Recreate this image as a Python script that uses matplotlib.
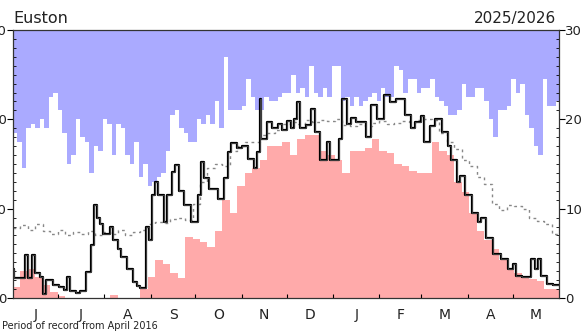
import numpy as np
import matplotlib
matplotlib.use("Agg")
import matplotlib.pyplot as plt

# ---- data (day of season starting 1 June) ----
month_labels = ["J", "J", "A", "S", "O", "N", "D", "J", "F", "M", "A", "M"]
month_days = [30, 31, 31, 30, 31, 30, 31, 31, 28, 31, 30, 31]

# record maximum, 3-day resolution
max_vals = [18.5, 17.5, 14.5, 19, 19.5, 19, 20, 19, 22.5, 23, 21, 18.5, 15, 16, 20, 18,
            17.5, 14, 17, 16.5, 20, 19.5, 16, 19.5, 19, 16, 15, 17.5, 13.5, 15, 12.5, 13,
            13.5, 14, 16.5, 20.5, 21, 19, 18.5, 17.5, 17.5, 20, 19.5, 20.5, 19.5, 22, 19, 27,
            21, 21, 21, 21.5, 24.5, 22.5, 21, 21, 22.5, 22, 22, 22.5, 23, 23, 25, 23,
            23.5, 22.5, 26, 23, 22.5, 23.5, 22.5, 26, 26, 22, 22.5, 21.5, 22.5, 21.5, 22, 22.5,
            23, 22, 23.5, 22.5, 22.5, 26, 25.5, 23, 24.5, 24.5, 23, 23.5, 23.5, 24.5, 22.5, 22,
            21.5, 20.5, 20.5, 21, 24, 22.5, 22.5, 23.5, 23.5, 22, 20, 18, 21, 21, 21.5, 24.5,
            23, 24, 20.5, 19, 17, 16, 24.5, 21.5, 21.5, 22]

# record minimum, 5-day resolution
min_vals = [1.2, 3.0, 3.2, 2.4, 1.5, 0.7, 0.2, 0, 0, 0, 0, 0, 0, 0.3, 0, 0, 0,
            1.0, 2.4, 4.3, 3.8, 2.8, 2.2, 6.8, 6.6, 6.3, 5.7, 7.5, 11, 9.5, 12.5, 14,
            14.5, 15.5, 17, 17, 17.5, 16, 17.8, 18.2, 18.2, 16.5, 16, 15.5, 14, 16.5, 16.5,
            16.8, 17.8, 16.5, 16.2, 15, 14.8, 14.2, 14, 14, 17.5, 16.5, 16, 13, 11.9, 9.5,
            7.5, 6.5, 5.5, 4.3, 3.2, 2.8, 2.3, 2.1, 1.9, 1.0, 1.0]

# mean, 5-day resolution
mean_vals = [7.8, 8.2, 7.6, 8.3, 7.5, 7.2, 7.6, 7.0, 7.4, 7.2, 7.5, 7.0, 7.4, 7.2, 7.6,
             7.0, 7.4, 7.6, 8.3, 8.5, 8.4, 8.8, 9.0, 8.7, 10.5, 13, 14.5, 15, 14.8, 16.5,
             17, 17.5, 17.5, 18.2, 18.5, 18.8, 19.5, 19.7, 19.5, 19.9, 19.7, 19.9, 19.8,
             20.0, 19.4, 19.2, 19.5, 19.3, 19.6, 19.8, 19.5, 19.6, 19.8, 19.7, 19.9, 20.0,
             19.9, 18.5, 17.5, 16.7, 15.5, 14.8, 13.5, 12.8, 10.5, 9.8, 10.4, 10.3, 10.0,
             9.0, 8.6, 8.3, 7.2]

# current season: (day the value starts, value)
cur_days = [0, 1, 8, 10, 13, 15, 18, 20, 22, 27, 31, 34, 36, 38, 42, 45, 49, 52, 54, 56,
            58, 60, 65, 67, 70, 72, 76, 80, 83, 85, 89, 91, 93, 95, 97, 101, 103, 106, 108,
            111, 114, 119, 124, 126, 128, 131, 137, 141, 144, 146, 150, 153, 157, 161, 163,
            165, 166, 170, 173, 177, 180, 183, 186, 188, 190, 192, 196, 199, 202, 205, 210,
            212, 218, 220, 223, 226, 229, 236, 239, 243, 248, 252, 256, 262, 266, 269, 273,
            275, 279, 282, 287, 291, 293, 297, 299, 302, 307, 311, 313, 316, 321, 326, 331,
            334, 336, 340, 346, 349, 351, 353, 357, 361]
cur_vals = [3.3, 2.2, 4.8, 2.2, 4.8, 2.8, 2.4, 0.5, 2.0, 1.4, 1.2, 0.9, 2.4, 0.8, 0.6, 0.8,
            2.9, 5.9, 10.4, 9.0, 8.3, 7.2, 8.0, 6.5, 5.5, 4.6, 3.2, 1.8, 1.3, 1.1, 8.0, 6.5,
            11.5, 13.0, 11.5, 8.5, 11.5, 14.1, 14.9, 12.0, 10.4, 8.5, 11.5, 15.2, 13.4, 12.2,
            11.1, 13.4, 16.3, 17.3, 16.8, 17.0, 15.6, 14.5, 16.3, 22.3, 17.8, 19.7, 19.0,
            19.5, 18.8, 19.8, 19.0, 20.0, 21.9, 19.0, 19.4, 21.2, 18.6, 15.4, 17.5, 15.4,
            17.8, 22.3, 19.5, 20.2, 19.7, 18.0, 21.6, 20.0, 22.7, 21.9, 22.3, 20.5, 19.0,
            19.7, 20.4, 17.5, 19.2, 20.0, 18.6, 17.0, 15.5, 13.0, 13.7, 11.5, 9.5, 8.5, 8.9,
            6.7, 4.9, 4.4, 3.3, 3.8, 2.5, 2.3, 4.4, 3.3, 4.4, 2.5, 1.6, 1.4]

title_left = "Euston"
title_right = "2025/2026"
footnote = "Period of record from April 2016"
YMAX = 30
NDAYS = sum(month_days)


def edges(step, vals):
    x = np.arange(len(vals)) * step
    x = np.append(x, NDAYS)
    y = np.append(np.asarray(vals, float), vals[-1])
    return x, y


fig = plt.figure(figsize=(5.82, 3.33), dpi=100)
ax = fig.add_axes([13 / 582, 1 - 298 / 333, (559 - 13) / 582, (298 - 30) / 333])

xm, ym = edges(3, max_vals)
ax.fill_between(xm, ym, YMAX, step="post", color="#aaaaff", lw=0)
xn, yn = edges(5, min_vals)
ax.fill_between(xn, 0, yn, step="post", color="#ffaaaa", lw=0)
xa, ya = edges(5, mean_vals)
ax.step(xa, ya, where="post", color="#888888", lw=1.0, ls=(0, (2, 2.5)))

xc = np.append(cur_days, NDAYS)
yc = np.append(cur_vals, cur_vals[-1])
ax.step(xc, yc, where="post", color="black", lw=1.6)
ax.step(xc, yc, where="post", color="#555555", lw=0.5)

ax.set_xlim(0, NDAYS)
ax.set_ylim(0, YMAX)

bounds = np.cumsum([0] + month_days)
centers = (bounds[:-1] + bounds[1:]) / 2
ax.set_xticks(bounds[1:-1])
ax.set_xticklabels([])
ax.set_xticks(centers, minor=True)
ax.set_xticklabels(month_labels, minor=True, fontsize=10, color="#222222")
ax.tick_params(axis="x", which="major", direction="in", length=3, width=0.8)
ax.tick_params(axis="x", which="minor", length=0, pad=7)

ax.set_yticks([0, 10, 20, 30])
ax.set_yticks(np.arange(0, 31, 1), minor=True)
ax.tick_params(axis="y", which="major", direction="out", length=4, width=0.8,
               left=True, right=True, labelleft=True, labelright=True,
               labelsize=9.5, pad=0.5, labelcolor="#222222")
ax.tick_params(axis="y", which="minor", direction="in", length=2.5, width=0.6,
               left=True, right=True)

for s in ax.spines.values():
    s.set_linewidth(0.9)
    s.set_color("#333333")

ax.text(0.0, 1.015, title_left, transform=ax.transAxes, ha="left", va="bottom",
        fontsize=11.5, color="#222222")
ax.text(0.995, 1.015, title_right, transform=ax.transAxes, ha="right", va="bottom",
        fontsize=11, color="#222222")
fig.text(2 / 582, 1 - 326 / 333, footnote, ha="left", va="center", fontsize=7,
         color="#222222")

fig.savefig("out.png", dpi=100)
